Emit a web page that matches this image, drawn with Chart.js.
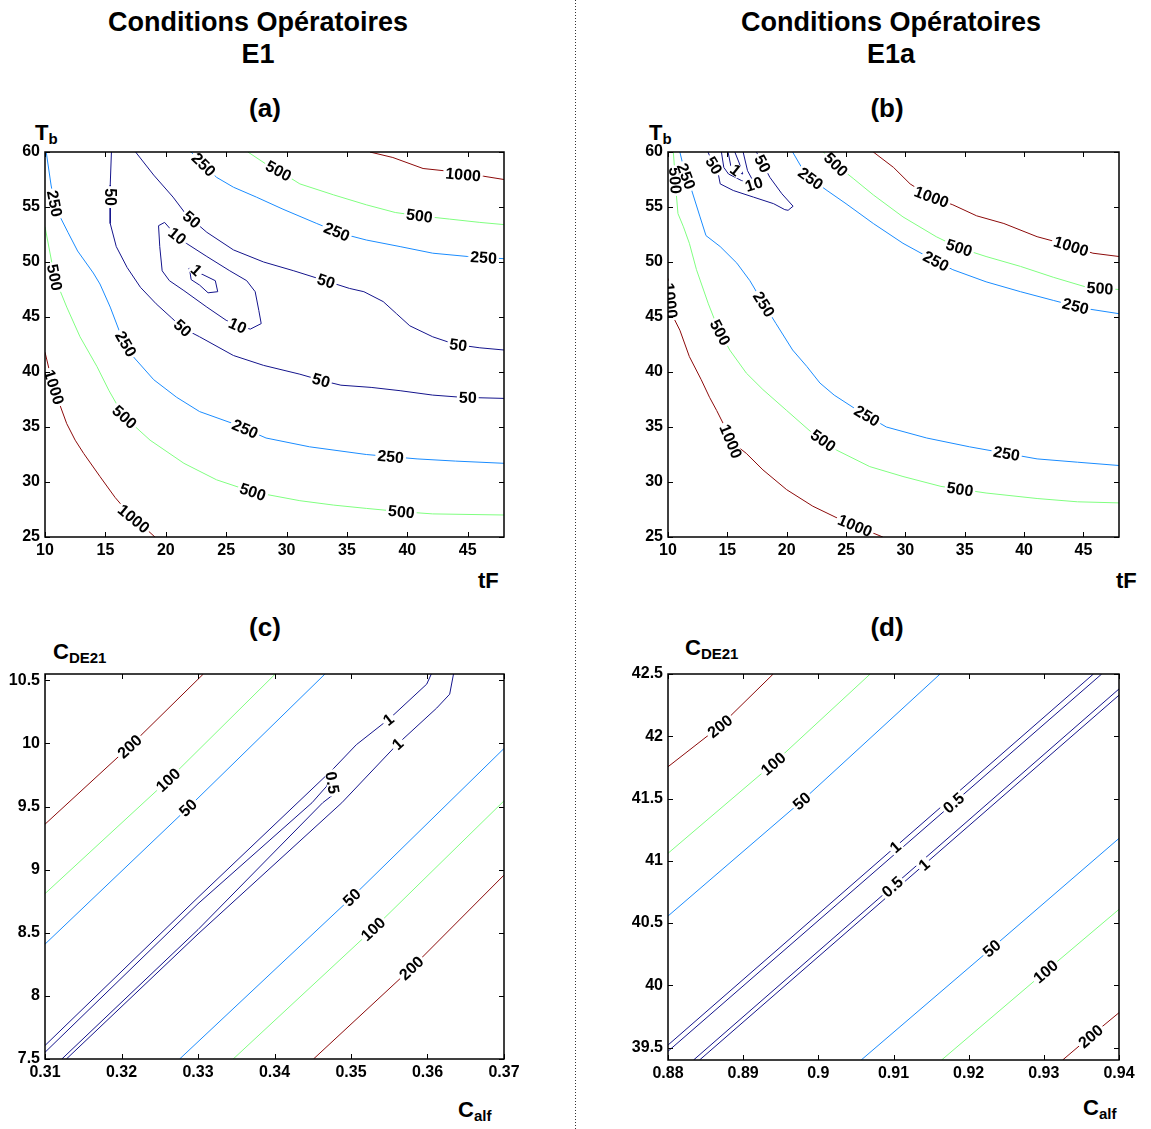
<!DOCTYPE html>
<html lang="fr">
<head>
<meta charset="utf-8">
<title>Conditions Opératoires E1 / E1a</title>
<script src="https://cdn.jsdelivr.net/npm/chart.js@4.4.1/dist/chart.umd.min.js"></script>
<style>
  html, body { margin: 0; padding: 0; background: #fff; }
  #page { position: relative; width: 1151px; height: 1129px; overflow: hidden;
          font-family: 'Liberation Sans', Arial, Helvetica, sans-serif; font-weight: bold; color: #000; }
  .head { position: absolute; top: 6px; width: 420px; text-align: center; font-size: 27px; line-height: 32px; }
  .tag  { position: absolute; width: 80px; text-align: center; font-size: 26px; line-height: 26px; }
  .lab  { position: absolute; font-size: 22px; line-height: 22px; white-space: nowrap; }
  .lab .sub { font-size: 15px; position: relative; top: 4px; }
  canvas { position: absolute; }
  #sep { position: absolute; left: 575px; top: 0; width: 1px; height: 1129px;
         background-image: linear-gradient(to bottom, #333 1px, transparent 1px); background-size: 1px 3px; }
</style>
</head>
<body>
<div id="page">
  <div id="sep"></div>
  <div class="head" style="left:48px">Conditions Opératoires<br>E1</div>
  <div class="head" style="left:681px">Conditions Opératoires<br>E1a</div>

  <div class="tag" style="left:225px;top:95px">(a)</div>
  <div class="tag" style="left:847px;top:95px">(b)</div>
  <div class="tag" style="left:225px;top:614px">(c)</div>
  <div class="tag" style="left:847px;top:614px">(d)</div>

  <div class="lab" style="left:35px;top:122px">T<span class="sub">b</span></div>
  <div class="lab" style="left:649px;top:122px">T<span class="sub">b</span></div>
  <div class="lab" style="left:478px;top:570px">tF</div>
  <div class="lab" style="left:1116px;top:570px">tF</div>
  <div class="lab" style="left:53px;top:641px">C<span class="sub">DE21</span></div>
  <div class="lab" style="left:685px;top:637px">C<span class="sub">DE21</span></div>
  <div class="lab" style="left:458px;top:1099px">C<span class="sub">alf</span></div>
  <div class="lab" style="left:1083px;top:1097px">C<span class="sub">alf</span></div>

  <canvas id="chart-a" width="520" height="440" style="left:0;top:140px;width:520px;height:440px"></canvas>
  <canvas id="chart-b" width="528" height="440" style="left:623px;top:140px;width:528px;height:440px"></canvas>
  <canvas id="chart-c" width="520" height="440" style="left:0;top:660px;width:520px;height:440px"></canvas>
  <canvas id="chart-d" width="528" height="440" style="left:623px;top:660px;width:528px;height:440px"></canvas>
</div>

<script>
(function () {
  'use strict';

  /* ---------------- panel (a) : E1, Tb vs tF ---------------- */
  const aXTicks = [10, 15, 20, 25, 30, 35, 40, 45];
  const aYTicks = [25, 30, 35, 40, 45, 50, 55, 60];

  const a1000lo = [[10,41.8],[10.5,39.5],[11.1,37.4],[11.8,35.3],[12.5,33.8],[13.2,32.6],[14.55,30.5],[15.8,28.6],[17.2,26.8],[18.3,25.8],[19.1,25]];
  const a1000hi = [[36.9,60],[38.8,59.5],[41.3,58.5],[43,58.3],[44.6,57.95],[46.3,57.8],[48,57.5]];
  const a500lo  = [[10,53.2],[10.8,48.6],[11.8,45.9],[12.9,43.2],[14.3,40.5],[15.3,38.3],[16.5,36],[18.7,33.8],[21.5,31.7],[24.2,30.2],[27.2,29.1],[31.1,28.3],[33.9,27.9],[36.6,27.6],[39.5,27.3],[42.1,27.1],[48,27.0]];
  const a500hi  = [[26.8,60],[28.3,58.9],[29.5,58.2],[31.1,57.1],[33.9,56.1],[36.6,55.2],[39,54.5],[41,54.2],[43.5,53.9],[46,53.6],[48,53.4]];
  const a250lo  = [[10.1,60],[10.5,57],[10.8,55.3],[11.3,54],[11.9,52.7],[12.7,51],[14.0,49],[14.55,48],[15.4,45.9],[16.3,43.3],[17.3,41.4],[19,39.3],[20.9,37.7],[22.8,36.4],[25.6,35.3],[28.3,34],[31.9,33.2],[36.6,32.5],[40.8,32.1],[44,31.9],[48,31.7]];
  const a250hi  = [[22.1,60],[23,59],[24.2,57.7],[25.6,56.8],[27.5,55.9],[29.7,54.8],[32.5,53.5],[34.5,52.6],[36.6,52],[39.4,51.4],[42.1,50.8],[45,50.5],[48,50.3]];
  const a50lo   = [[15.5,60],[15.4,57],[15.4,55.6],[15.4,53.5],[15.9,51.4],[16.8,49.5],[17.9,47.7],[19.2,46.2],[20.5,44.9],[21.4,44],[22.8,43.2],[25.6,41.5],[28.1,40.6],[31.1,39.8],[33,39.2],[34.5,38.8],[37,38.6],[39.4,38.3],[42.1,37.9],[44.5,37.7],[48,37.6]];
  const a50hi   = [[17.5,60],[19.0,57.9],[20.6,55.9],[21.7,54.3],[23.4,52.7],[25.6,51.1],[28.1,50],[30.6,49.2],[33.2,48.3],[35.2,47.6],[36.4,47.3],[38,46.4],[39.1,45.3],[40.2,44.2],[42.1,43.2],[44,42.5],[46,42.2],[48,42.0]];
  const a10     = [[19.4,53.3],[19.9,53.6],[20.7,52.6],[21.7,51.7],[23.4,50.5],[25.3,49.2],[26.7,48.3],[27.4,47.3],[27.7,45.6],[27.9,44.4],[27,43.9],[26,44.2],[25,44.7],[23.4,45.9],[21.5,47.4],[20.3,48.3],[19.7,49.2],[19.5,51.4],[19.4,53.3]];
  const a1      = [[21.9,49.4],[22.3,49.5],[22.8,49.0],[24.1,48.3],[24.3,47.3],[23.5,47.2],[22.8,47.9],[22.1,48.4],[22.0,49.1],[21.9,49.4]];

  const aContours = [['1000', a1000lo], ['1000', a1000hi], ['500', a500lo], ['500', a500hi],
                     ['250', a250lo], ['250', a250hi], ['50', a50lo], ['50', a50hi], ['10', a10], ['1', a1]];
  const aLabels = [
    [a1000lo, 10.7, 38.6], [a1000lo, 17.0, 26.2], [a1000hi, 44.6, 57.8],
    [a500lo, 10.8, 48.6], [a500lo, 16.5, 35.8], [a500lo, 27.2, 29.1], [a500lo, 39.5, 27.3],
    [a500hi, 29.3, 58.2], [a500hi, 41.0, 54.2],
    [a250lo, 10.8, 55.3], [a250lo, 16.3, 42.3], [a250lo, 26.4, 34.4], [a250lo, 38.6, 32.1],
    [a250hi, 23.0, 58.7], [a250hi, 34.1, 52.6], [a250hi, 46.3, 50.2],
    [a50lo, 15.3, 55.9], [a50lo, 21.4, 44.0], [a50lo, 32.8, 39.0], [a50lo, 45.0, 37.6],
    [a50hi, 22.1, 53.8], [a50hi, 33.2, 48.0], [a50hi, 44.2, 42.4],
    [a10, 20.9, 52.3], [a10, 25.9, 44.1], [a1, 22.4, 49.1]
  ];

  /* ---------------- panel (b) : E1a, Tb vs tF ---------------- */
  const bXTicks = [10, 15, 20, 25, 30, 35, 40, 45];
  const bYTicks = [25, 30, 35, 40, 45, 50, 55, 60];

  const b1000lo = [[10,48.5],[10.2,46.5],[10.3,45.3],[11,43.8],[11.8,41.4],[12.8,39.3],[13.5,37.7],[14.1,36.5],[14.8,35],[15.3,33.7],[16.6,32.6],[18.0,31.1],[20,29.3],[22.2,27.8],[24.5,26.6],[26.5,25.7],[28.1,25]];
  const b1000hi = [[27.3,60],[29,58.6],[30.4,57.1],[32,56],[34,55.2],[36,54.2],[38.3,53.5],[41.1,52.3],[43.5,51.6],[45.8,50.8],[48,50.5]];
  const b500lo  = [[10.45,60],[10.55,58.5],[10.65,56.8],[10.84,54.4],[11.3,53.2],[11.8,51.7],[12.4,49.3],[13.4,46.2],[14.2,44],[15.2,42.0],[16.6,39.9],[18.0,38.4],[20,36.5],[22,34.6],[24.2,32.9],[27,31.4],[29.8,30.5],[33,29.6],[36.8,29.0],[41.1,28.5],[44.5,28.2],[48,28.1]];
  const b500hi  = [[23.1,60],[24.2,58.8],[25.6,57.6],[27.3,56.1],[29.8,54.1],[32.6,52.3],[34.5,51.3],[36.8,50.5],[39.7,49.6],[42.5,48.6],[45.3,47.7],[48,47.5]];
  const b250lo  = [[11,60],[11.4,58.2],[12,56.5],[12.7,54.1],[13.2,52.4],[14.4,51.4],[15.8,49.9],[16.9,48.3],[18,46.3],[19.1,44.4],[20.5,42],[21.7,40.5],[22.8,39],[24,37.9],[26,36.5],[28.4,35],[31.8,34],[35.4,33.2],[38.5,32.6],[41.1,32.1],[44.5,31.8],[48,31.5]];
  const b250hi  = [[20.5,60],[21.2,58.7],[22,57.6],[23.4,56.5],[25,55.3],[27.3,53.5],[29.8,51.7],[32,50.4],[34,49.3],[36.8,48.2],[39.7,47.3],[42.5,46.5],[45,45.8],[48,45.3]];
  const b50     = [[13.37,60],[13.8,58.9],[14.2,58.2],[14.4,57.1],[15.5,56.5],[17.2,55.9],[18.9,55.3],[19.84,54.76],[20.12,54.7],[20.54,55.07],[19.6,56.2],[18.58,57.7],[17.45,60]];
  const b10     = [[14.5,60],[14.7,58.6],[15.1,58.0],[16.2,57.4],[17.0,57.0],[17.3,57.1],[16.7,58.3],[16.33,60]];
  const b1      = [[15.06,60],[15.3,58.7],[16.0,58.1],[16.3,58.0],[16.0,59],[15.63,60]];

  const bContours = [['1000', b1000lo], ['1000', b1000hi], ['500', b500lo], ['500', b500hi],
                     ['250', b250lo], ['250', b250hi], ['50', b50], ['10', b10], ['1', b1]];
  const bLabels = [
    [b1000lo, 10.2, 46.5], [b1000lo, 15.3, 33.7], [b1000lo, 25.6, 25.6],
    [b1000hi, 32.2, 55.9], [b1000hi, 43.9, 51.2],
    [b500lo, 10.6, 57.4], [b500lo, 14.4, 43.6], [b500lo, 22.9, 33.5], [b500lo, 34.6, 29.3],
    [b500hi, 23.9, 58.6], [b500hi, 34.5, 51.2], [b500hi, 46.4, 47.6],
    [b250lo, 11.3, 57.7], [b250lo, 18.0, 46.1], [b250lo, 26.7, 35.9], [b250lo, 38.5, 32.4],
    [b250hi, 21.9, 57.4], [b250hi, 32.4, 49.7], [b250hi, 44.3, 45.8],
    [b50, 13.6, 58.6], [b50, 17.9, 58.9], [b10, 17.3, 56.9], [b1, 15.8, 58.5]
  ];

  /* ---------------- panel (c) : E1, CDE21 vs Calf ---------------- */
  const cXTicks = [0.31, 0.32, 0.33, 0.34, 0.35, 0.36, 0.37];
  const cYTicks = [7.5, 8, 8.5, 9, 9.5, 10, 10.5];

  const c200up = [[0.31,9.36],[0.3213,9.99],[0.3307,10.55]];
  const c100up = [[0.31,8.81],[0.3261,9.71],[0.3401,10.55]];
  const c50up  = [[0.31,8.41],[0.3287,9.49],[0.3466,10.55]];
  const c1up   = [[0.31,7.607],[0.33,8.78],[0.3477,9.8],[0.3507,9.99],[0.3551,10.2],[0.3599,10.47],[0.3605,10.55]];
  const c05    = [[0.31,7.553],[0.33,8.73],[0.3449,9.53],[0.3468,9.66],[0.3474,9.75],[0.3478,9.6],[0.3463,9.53],[0.33,8.525],[0.3122,7.5]];
  const c1lo   = [[0.3128,7.5],[0.33,8.49],[0.3488,9.53],[0.356,9.99],[0.3612,10.28],[0.3629,10.39],[0.3634,10.55]];
  const c50lo  = [[0.3276,7.5],[0.3501,8.78],[0.37,9.96]];
  const c100lo = [[0.3346,7.5],[0.3529,8.53],[0.37,9.545]];
  const c200lo = [[0.3451,7.5],[0.3579,8.22],[0.37,8.957]];

  const cContours = [['200', c200up], ['100', c100up], ['50', c50up], ['1', c1up], ['0.5', c05],
                     ['1', c1lo], ['50', c50lo], ['100', c100lo], ['200', c200lo]];
  const cLabels = [
    [c200up, 0.3213, 9.96], [c100up, 0.3261, 9.71], [c50up, 0.3287, 9.49],
    [c1up, 0.3549, 10.19], [c1lo, 0.3562, 9.99], [c05, 0.3477, 9.69],
    [c50lo, 0.3501, 8.78], [c100lo, 0.3529, 8.53], [c200lo, 0.3579, 8.22]
  ];

  /* ---------------- panel (d) : E1a, CDE21 vs Calf ---------------- */
  const dXTicks = [0.88, 0.89, 0.9, 0.91, 0.92, 0.93, 0.94];
  const dYTicks = [39.5, 40, 40.5, 41, 41.5, 42, 42.5];

  const d200up = [[0.88,41.755],[0.8869,42.08],[0.894,42.5]];
  const d100up = [[0.88,41.06],[0.894,41.78],[0.9069,42.5]];
  const d50up  = [[0.88,40.556],[0.8978,41.48],[0.9162,42.5]];
  const d1up   = [[0.88,39.52],[0.9104,41.12],[0.9366,42.5]];
  const d05up  = [[0.88,39.47],[0.9182,41.475],[0.9377,42.5]];
  const d05lo  = [[0.8834,39.4],[0.91,40.8],[0.94,42.38]];
  const d1lo   = [[0.8842,39.4],[0.9142,40.975],[0.94,42.33]];
  const d50lo  = [[0.9057,39.4],[0.9233,40.31],[0.94,41.18]];
  const d100lo = [[0.9164,39.4],[0.9304,40.12],[0.94,40.61]];
  const d200lo = [[0.9325,39.4],[0.9364,39.6],[0.94,39.78]];

  const dContours = [['200', d200up], ['100', d100up], ['50', d50up], ['1', d1up], ['0.5', d05up],
                     ['0.5', d05lo], ['1', d1lo], ['50', d50lo], ['100', d100lo], ['200', d200lo]];
  const dLabels = [
    [d200up, 0.8869, 42.08], [d100up, 0.894, 41.78], [d50up, 0.8978, 41.48],
    [d1up, 0.9104, 41.1], [d05up, 0.9182, 41.45], [d05lo, 0.910, 40.78], [d1lo, 0.9142, 40.96],
    [d50lo, 0.9233, 40.28], [d100lo, 0.9304, 40.1], [d200lo, 0.9364, 39.58]
  ];

  /* ---------------- styles ---------------- */
  const NAVY = '#14148c', BLUE = '#1a8cff', GREEN = '#80ff80', RED = '#8c0a0a';
  const colourTb  = { '1': NAVY, '10': NAVY, '50': NAVY, '250': BLUE, '500': GREEN, '1000': RED };
  const colourCde = { '0.5': NAVY, '1': NAVY, '50': BLUE, '100': GREEN, '200': RED };
  const FONT = "'Liberation Sans', Arial, Helvetica, sans-serif";

  /* ---------------- plugins ---------------- */
  // inline contour labels (clabel style): white gap in the line, text along the line
  const contourLabels = {
    id: 'contourLabels',
    afterDatasetsDraw(chart, args, opts) {
      const { ctx, chartArea: area, scales } = chart;
      ctx.save();
      ctx.beginPath();
      ctx.rect(area.left, area.top, area.right - area.left, area.bottom - area.top);
      ctx.clip();
      ctx.font = 'bold 16px ' + FONT;
      ctx.textAlign = 'center';
      ctx.textBaseline = 'middle';
      (opts.items || []).forEach(([line, x, y]) => {
        const ds = chart.data.datasets.find(d => d.src === line);
        if (!ds) return;
        const pts = line.map(p => [scales.x.getPixelForValue(p[0]), scales.y.getPixelForValue(p[1])]);
        const px = scales.x.getPixelForValue(x), py = scales.y.getPixelForValue(y);
        let best = null;
        for (let i = 0; i < pts.length - 1; i++) {
          const [x1, y1] = pts[i], [x2, y2] = pts[i + 1];
          const dx = x2 - x1, dy = y2 - y1, len2 = dx * dx + dy * dy || 1;
          const t = Math.max(0, Math.min(1, ((px - x1) * dx + (py - y1) * dy) / len2));
          const qx = x1 + t * dx, qy = y1 + t * dy;
          const dist = (qx - px) ** 2 + (qy - py) ** 2;
          if (!best || dist < best.dist) best = { dist, qx, qy, ang: Math.atan2(dy, dx) };
        }
        let ang = best.ang;
        if (ang > Math.PI / 2) ang -= Math.PI;
        if (ang < -Math.PI / 2) ang += Math.PI;
        const w = ctx.measureText(ds.label).width;
        ctx.save();
        ctx.translate(best.qx, best.qy);
        ctx.rotate(ang);
        ctx.fillStyle = '#fff';
        ctx.fillRect(-w / 2 - 2, -6, w + 4, 12);
        ctx.fillStyle = '#000';
        ctx.fillText(ds.label, 0, 1);
        ctx.restore();
      });
      ctx.restore();
    }
  };

  // box round the plot with inward ticks on all four sides
  const frameTicks = {
    id: 'frameTicks',
    afterDraw(chart) {
      const { ctx, chartArea: a, scales: { x, y } } = chart;
      ctx.save();
      ctx.strokeStyle = '#000';
      ctx.lineWidth = 1;
      ctx.beginPath();
      x.ticks.forEach(t => {
        const p = Math.round(x.getPixelForValue(t.value)) + 0.5;
        ctx.moveTo(p, a.bottom); ctx.lineTo(p, a.bottom - 5);
        ctx.moveTo(p, a.top);    ctx.lineTo(p, a.top + 5);
      });
      y.ticks.forEach(t => {
        const p = Math.round(y.getPixelForValue(t.value)) + 0.5;
        ctx.moveTo(a.left, p);  ctx.lineTo(a.left + 5, p);
        ctx.moveTo(a.right, p); ctx.lineTo(a.right - 5, p);
      });
      ctx.stroke();
      ctx.lineWidth = 1.5;
      ctx.strokeRect(a.left, a.top, a.right - a.left, a.bottom - a.top);
      ctx.restore();
    }
  };

  /* ---------------- chart builder ---------------- */
  function axis(min, max, ticks, isX) {
    return {
      type: 'linear', min, max,
      grid: { display: false, drawTicks: false },
      border: { display: false },
      ticks: {
        autoSkip: false, maxRotation: 0, minRotation: 0,
        padding: isX ? 4 : 5,
        color: '#000',
        font: { family: FONT, size: 16, weight: 'bold' },
        callback: v => String(v)
      },
      afterBuildTicks: s => { s.ticks = ticks.map(v => ({ value: v })); },
      afterFit: s => {
        if (isX) { s.height = 28; s.paddingLeft = 0; s.paddingRight = 0; }
        else     { s.width = 45;  s.paddingTop = 0;  s.paddingBottom = 0; }
      }
    };
  }

  function makeChart(id, contours, labels, colours, xr, yr, xt, yt, padding) {
    const datasets = contours.map(([level, pts]) => ({
      label: level,
      src: pts,
      data: pts.map(p => ({ x: p[0], y: p[1] })),
      showLine: true,
      borderColor: colours[level],
      borderWidth: 1,
      pointRadius: 0,
      fill: false,
      tension: 0
    }));
    return new Chart(document.getElementById(id), {
      type: 'scatter',
      data: { datasets },
      plugins: [contourLabels, frameTicks],
      options: {
        responsive: false,
        animation: false,
        events: [],
        layout: { padding },
        plugins: {
          legend: { display: false },
          tooltip: { enabled: false },
          contourLabels: { items: labels }
        },
        scales: { x: axis(xr[0], xr[1], xt, true), y: axis(yr[0], yr[1], yt, false) }
      }
    });
  }

  function init() {
    makeChart('chart-a', aContours, aLabels, colourTb, [10, 48], [25, 60], aXTicks, aYTicks,
      { left: 0, top: 12, right: 16, bottom: 15 });
    makeChart('chart-b', bContours, bLabels, colourTb, [10, 48], [25, 60], bXTicks, bYTicks,
      { left: 0, top: 12, right: 32, bottom: 15 });
    makeChart('chart-c', cContours, cLabels, colourCde, [0.31, 0.37], [7.5, 10.55], cXTicks, cYTicks,
      { left: 0, top: 14, right: 16, bottom: 13 });
    makeChart('chart-d', dContours, dLabels, colourCde, [0.88, 0.94], [39.4, 42.5], dXTicks, dYTicks,
      { left: 0, top: 14, right: 32, bottom: 12 });
  }

  if (typeof Chart !== 'undefined') init();
  else window.addEventListener('load', init);
})();
</script>
</body>
</html>
